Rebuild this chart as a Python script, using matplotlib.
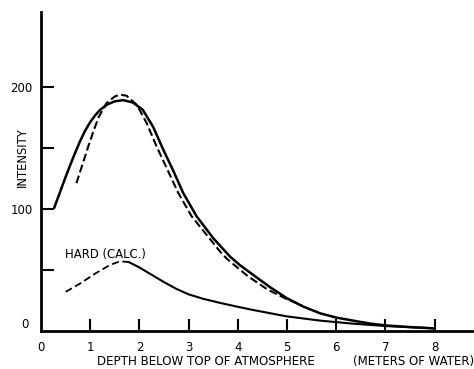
import matplotlib.pyplot as plt

# measured curve (solid)
depth_meas = [0.27, 0.38, 0.49, 0.59, 0.69, 0.79, 0.89, 1.0, 1.1, 1.2, 1.35, 1.5, 1.67,
              1.87, 2.07, 2.28, 2.49, 2.69, 2.89, 3.16, 3.5, 3.84, 4.04, 4.31,
              4.65, 4.99, 5.33, 5.67, 6.0, 6.34, 6.7, 7.03, 7.5, 7.97]
int_meas = [101, 113, 125, 135.5, 145.5, 155, 163.5, 171, 176.5, 181, 185.5, 188, 189,
            187, 181, 167, 148, 131, 113, 94, 76, 61, 54, 46,
            36, 27, 20, 14.5, 11, 8.5, 6, 4.5, 3.2, 2.2]

# calculated total (dashed)
depth_calc = [0.72, 0.84, 0.96, 1.07, 1.17, 1.33, 1.5, 1.6, 1.74, 1.95, 2.15,
              2.35, 2.57, 2.79, 3.06, 3.4, 3.64, 3.78, 4.2, 4.6, 5.0, 5.3]
int_calc = [121, 136, 151, 164, 175, 186.5, 192, 193.5, 192.6, 185, 170,
            151, 132, 113, 94, 77, 65, 59, 45, 34, 26, 21]

# hard component (calc.), dashed part then solid part
depth_hard_d = [0.5, 0.8, 1.1, 1.4, 1.6, 1.78]
int_hard_d = [32, 39, 47, 54, 57, 56.5]
depth_hard_s = [1.78, 2.0, 2.25, 2.5, 2.75, 3.0, 3.3, 3.64, 4.0, 4.31, 4.99,
                5.67, 6.34, 7.03, 7.97]
int_hard_s = [56.5, 52, 46, 40, 34.5, 30, 26.3, 23, 19.8, 17.2, 12,
              8.5, 6, 4, 2.2]

fig = plt.figure(figsize=(4.74, 3.69), dpi=100)
ax = fig.add_axes([0.0865, 0.103, 0.9135, 0.864])

ax.plot(depth_meas, int_meas, color='black', lw=1.8, solid_joinstyle='round')
ax.plot(depth_calc, int_calc, color='black', lw=1.5, linestyle=(0, (3.8, 1.7)))
ax.plot(depth_hard_d, int_hard_d, color='black', lw=1.3, linestyle=(0, (4, 2)))
ax.plot(depth_hard_s, int_hard_s, color='black', lw=1.5, solid_joinstyle='round')

ax.text(0.49, 63, 'HARD (CALC.)', fontsize=8.4, va='center', ha='left')

ax.set_xlim(0, 8.8)
ax.set_ylim(0, 261)
for s in ['top', 'right']:
    ax.spines[s].set_visible(False)
for s in ['left', 'bottom']:
    ax.spines[s].set_linewidth(2)

ax.set_xticks([1, 2, 3, 4, 5, 6, 7, 8])
ax.set_xticks([0], minor=True)
ax.set_yticks([50, 100, 150, 200])
ax.tick_params(axis='both', direction='in', length=9, width=1.5, labelsize=8.5)
ax.tick_params(axis='x', which='minor', length=0)
ax.set_xticklabels(['1', '2', '3', '4', '5', '6', '7', '8'])
ax.set_xticklabels(['0'], minor=True)
ax.tick_params(axis='x', which='both', pad=7, labelsize=8.5)
ax.tick_params(axis='y', pad=6)
ax.set_yticklabels(['', '100', '', '200'])
ax.text(-0.33, 5, '0', fontsize=8.5, ha='center', va='center')

ax.text(-0.044, 0.545, 'INTENSITY', fontsize=8.3, rotation=90,
        ha='center', va='center', transform=ax.transAxes)
ax.text(0.129, -0.097, 'DEPTH BELOW TOP OF ATMOSPHERE',
        fontsize=8.6, ha='left', va='center', transform=ax.transAxes)
ax.text(0.72, -0.097, '(METERS OF WATER)',
        fontsize=8.5, ha='left', va='center', transform=ax.transAxes)

fig.savefig('out.png', dpi=100)
